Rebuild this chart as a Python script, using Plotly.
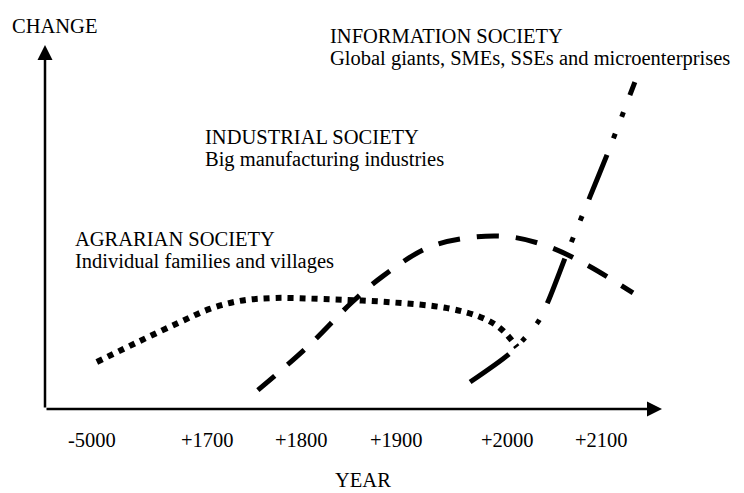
import plotly.graph_objects as go

# Schematic positions: x in 0-100 along the YEAR axis, y in 0-100 along the CHANGE axis
year_labels = ["-5000", "+1700", "+1800", "+1900", "+2000", "+2100"]
year_pos = [7.6, 26.4, 41.6, 56.9, 75.0, 90.2]

agrarian_x = [8.4, 15.4, 21.9, 26.7, 31.6, 37.3, 45.1, 55.4, 65.2, 70.5, 73.7, 76.5]
agrarian_y = [12.9, 18.7, 23.9, 27.5, 29.7, 30.5, 30.2, 29.4, 27.7, 25.3, 22.3, 17.0]

industrial_x = [34.5, 42.5, 49.8, 54.6, 61.9, 68.4, 75.4, 81.8, 87.8, 95.3]
industrial_y = [5.2, 17.0, 29.4, 36.3, 44.2, 47.0, 47.3, 44.5, 39.6, 31.9]

information_x = [68.9, 75.0, 77.5, 79.9, 81.5, 84.8, 88.3, 91.2, 95.6]
information_y = [7.4, 14.8, 19.0, 23.9, 29.4, 43.7, 58.2, 70.3, 89.8]

societies = ["INFORMATION SOCIETY", "INDUSTRIAL SOCIETY", "AGRARIAN SOCIETY"]
descriptions = ["Global giants, SMEs, SSEs and microenterprises",
                "Big manufacturing industries",
                "Individual families and villages"]

FONT = "Liberation Serif, Times New Roman, serif"
FS = 20.5
tf = dict(family=FONT, size=FS, color="black")

fig = go.Figure()
fig.add_trace(go.Scatter(x=agrarian_x, y=agrarian_y, mode="lines",
                         line=dict(color="black", width=6, dash="6px,6px", shape="spline", smoothing=1.0),
                         showlegend=False, hoverinfo="skip"))
fig.add_trace(go.Scatter(x=industrial_x, y=industrial_y, mode="lines",
                         line=dict(color="black", width=5, dash="22px,17px", shape="spline", smoothing=1.0),
                         showlegend=False, hoverinfo="skip"))
fig.add_trace(go.Scatter(x=information_x, y=information_y, mode="lines",
                         line=dict(color="black", width=5, dash="48px,18px,5px,18px,5px,18px",
                                   shape="spline", smoothing=0.8),
                         showlegend=False, hoverinfo="skip"))

# Axis arrows
fig.add_annotation(x=100, y=0, ax=0, ay=0, xref="x", yref="y", axref="x", ayref="y",
                   text="", showarrow=True, arrowhead=2, arrowwidth=2.5, arrowsize=1.2,
                   arrowcolor="black", standoff=0)
fig.add_annotation(x=0, y=100, ax=0, ay=0, xref="x", yref="y", axref="x", ayref="y",
                   text="", showarrow=True, arrowhead=2, arrowwidth=2.5, arrowsize=1.2,
                   arrowcolor="black", standoff=0)

# Tick labels
for lab, pos in zip(year_labels, year_pos):
    fig.add_annotation(x=pos / 100, y=-0.085, xref="paper", yref="paper", text=lab, showarrow=False,
                       xanchor="center", yanchor="middle", font=tf)

fig.add_annotation(x=0.515, y=-0.195, xref="paper", yref="paper", text="YEAR", showarrow=False,
                   xanchor="center", yanchor="middle", font=tf)
fig.add_annotation(x=-0.056, y=1.052, xref="paper", yref="paper", text="CHANGE", showarrow=False,
                   xanchor="left", yanchor="middle", font=tf)

label_x = [0.459, 0.256, 0.045]
label_y1 = [1.0240, 0.7466, 0.4663]
label_y2 = [0.9622, 0.6848, 0.4045]
for s, d, lx, y1, y2 in zip(societies, descriptions, label_x, label_y1, label_y2):
    fig.add_annotation(x=lx, y=y1, xref="paper", yref="paper", text=s, showarrow=False,
                       xanchor="left", yanchor="middle", font=tf)
    fig.add_annotation(x=lx, y=y2, xref="paper", yref="paper", text=d, showarrow=False,
                       xanchor="left", yanchor="middle", font=tf)

fig.update_xaxes(range=[0, 100], visible=False, fixedrange=True)
fig.update_yaxes(range=[0, 100], visible=False, fixedrange=True)
fig.update_layout(width=736, height=485, margin=dict(l=37, r=82, t=37, b=84),
                  plot_bgcolor="white", paper_bgcolor="white", showlegend=False)

fig.write_html("out.html", config={"displayModeBar": False})
